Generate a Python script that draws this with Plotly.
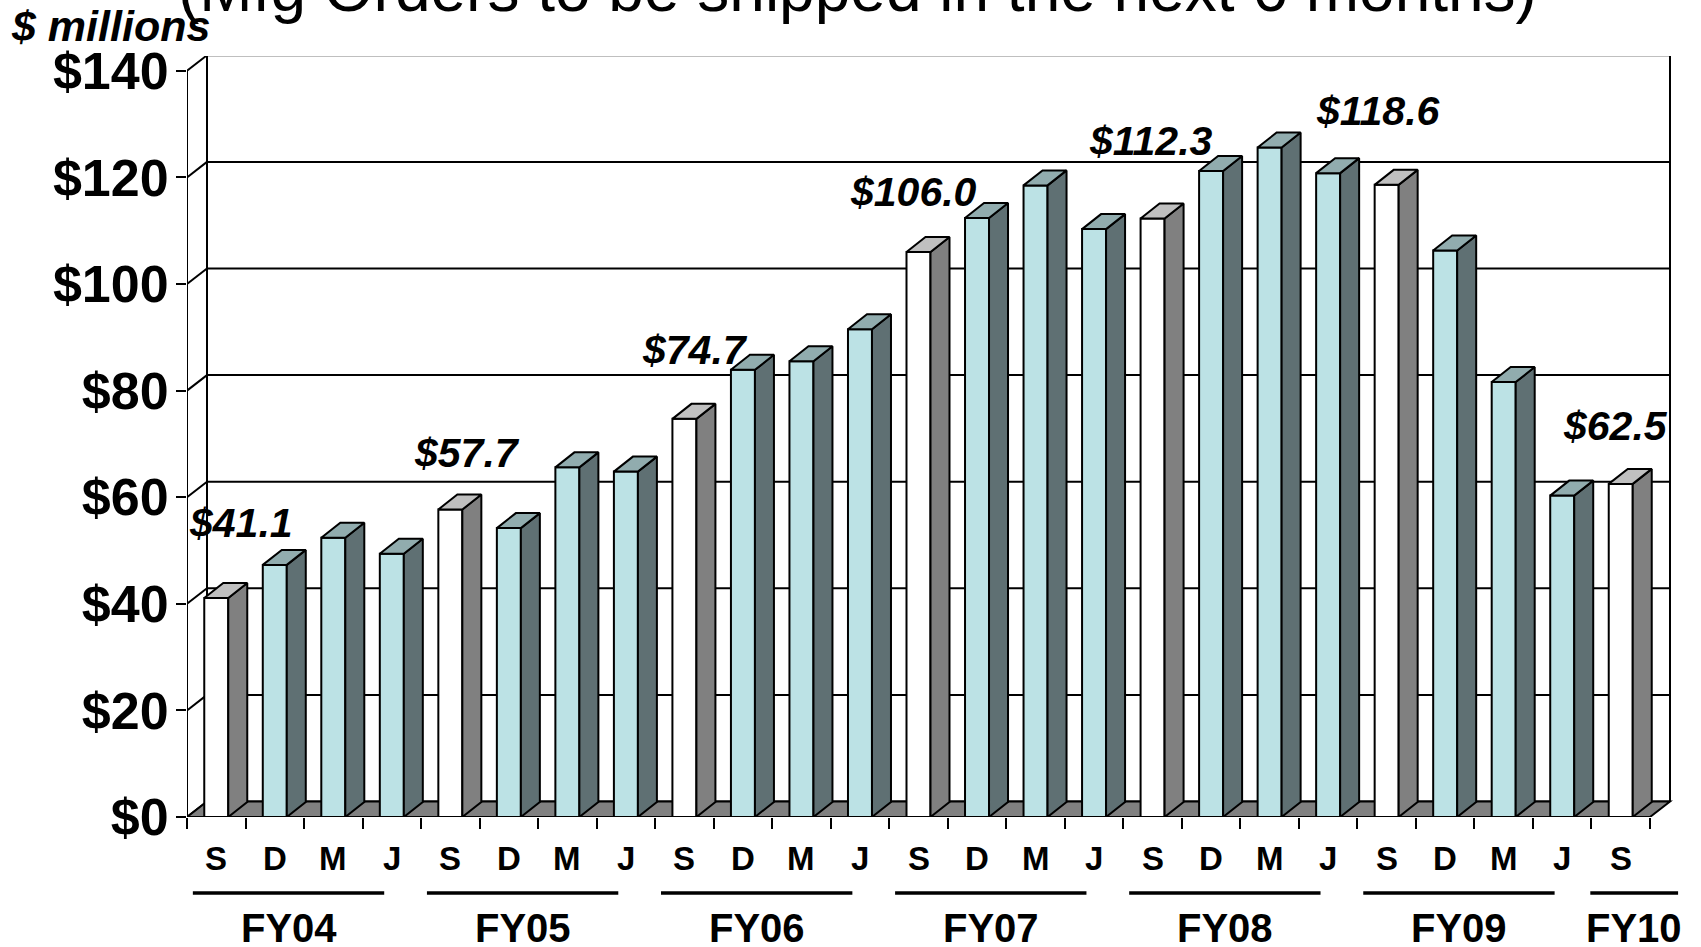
import plotly.graph_objects as go

# ---------------- data ----------------
quarters = ["S", "D", "M", "J"] * 6 + ["S"]
fiscal_years = ["FY04", "FY05", "FY06", "FY07", "FY08", "FY09", "FY10"]
fy_quarter_counts = [4, 4, 4, 4, 4, 4, 1]
orders = [41.1, 47.3, 52.4, 49.4,
          57.7, 54.2, 65.6, 64.8,
          74.7, 83.9, 85.5, 91.5,
          106.0, 112.4, 118.5, 110.3,
          112.3, 121.2, 125.6, 120.8,
          118.6, 106.3, 81.6, 60.3,
          62.5]
y_tick_values = [0, 20, 40, 60, 80, 100, 120, 140]
y_tick_labels = ["$0", "$20", "$40", "$60", "$80", "$100", "$120", "$140"]
title_text = "(Mfg Orders to be shipped in the next 6 months)"
unit_text = "$ millions"

# ---------------- layout geometry / style ----------------
W, H = 1701, 947
L, R, T, B = 187, 0, 56, 130
CAT_PX = 58.52          # pixels per category
UNIT_PX = 5.33          # pixels per $1M
plot_w = W - L - R
plot_h = H - T - B
x_range = [-0.5, -0.5 + plot_w / CAT_PX]
y_range = [0, plot_h / UNIT_PX]

WALL_DX = 20 / CAT_PX
WALL_DY = 15.5 / UNIT_PX
BAR_DX = 19 / CAT_PX
BAR_DY = 15 / UNIT_PX
BAR_W = 24 / CAT_PX

FONT = "Liberation Sans, Arial, Helvetica, sans-serif"
LW = 2

# colours
S_FRONT, S_SIDE, S_TOP = "#FFFFFF", "#808080", "#C0C0C0"
C_FRONT, C_SIDE, C_TOP = "#BCE2E5", "#5F7073", "#91ACAE"
FLOOR = "#808080"

# label offsets (px) for the S-quarter value labels
label_dx = [25, 17, 11, -5, -2, -8, -5]
label_dy = [75, 56, 69, 60, 77, 74, 58]

# underline extents relative to group's left boundary (in categories)
underline_ext = [(0.10, 3.37)] * 6 + [(-0.02, 1.48)]


def paper_y(py):
    return (H - B - py) / plot_h


def paper_x(px):
    return (px - L) / plot_w


n = len(orders)
idx = list(range(n))
is_s = [q == "S" for q in quarters]
x_left_front = -0.5
x_right_front = n - 0.5

fig = go.Figure()

# ---- bar front faces ----
fig.add_trace(go.Bar(
    x=idx, y=orders, width=BAR_W,
    marker=dict(color=[S_FRONT if s else C_FRONT for s in is_s],
                line=dict(color="black", width=LW)),
    hoverinfo="skip", showlegend=False,
))


def faces(sel):
    sx, sy, tx, ty = [], [], [], []
    for i, v in enumerate(orders):
        if is_s[i] != sel:
            continue
        xl = i - BAR_W / 2
        xr = i + BAR_W / 2
        sx += [xr, xr + BAR_DX, xr + BAR_DX, xr, xr, None]
        sy += [0, BAR_DY, v + BAR_DY, v, 0, None]
        tx += [xl, xl + BAR_DX, xr + BAR_DX, xr, xl, None]
        ty += [v, v + BAR_DY, v + BAR_DY, v, v, None]
    return sx, sy, tx, ty


for sel, side_c, top_c in [(True, S_SIDE, S_TOP), (False, C_SIDE, C_TOP)]:
    sx, sy, tx, ty = faces(sel)
    fig.add_trace(go.Scatter(x=sx, y=sy, mode="lines", fill="toself",
                             fillcolor=side_c, line=dict(color="black", width=LW),
                             hoverinfo="skip", showlegend=False))
    fig.add_trace(go.Scatter(x=tx, y=ty, mode="lines", fill="toself",
                             fillcolor=top_c, line=dict(color="black", width=LW),
                             hoverinfo="skip", showlegend=False))

# ---- walls, floor (below traces) ----
shapes = []
line_style = dict(color="black", width=LW)
bx0 = x_left_front + WALL_DX
bx1 = x_right_front + WALL_DX
ytop = y_tick_values[-1]
for v in y_tick_values:
    shapes.append(dict(type="line", xref="x", yref="y", layer="below",
                       x0=bx0, x1=bx1, y0=v + WALL_DY, y1=v + WALL_DY, line=line_style))
    shapes.append(dict(type="line", xref="x", yref="y", layer="below",
                       x0=x_left_front, x1=bx0, y0=v, y1=v + WALL_DY, line=line_style))
# floor
shapes.append(dict(type="path", xref="x", yref="y", layer="below",
                   path=f"M {x_left_front},0 L {x_right_front},0 L {bx1},{WALL_DY} L {bx0},{WALL_DY} Z",
                   fillcolor=FLOOR, line=line_style))
# wall verticals
shapes.append(dict(type="line", xref="x", yref="y", layer="below",
                   x0=bx0, x1=bx0, y0=WALL_DY, y1=ytop + WALL_DY, line=line_style))
shapes.append(dict(type="line", xref="x", yref="y", layer="below",
                   x0=bx1, x1=bx1, y0=WALL_DY, y1=ytop + WALL_DY, line=line_style))
# front value axis
shapes.append(dict(type="line", xref="x", yref="y", layer="below",
                   x0=x_left_front, x1=x_left_front, y0=0, y1=ytop, line=line_style))

# ---- fiscal-year underlines ----
annotations = []
start = 0
for fy, cnt, (e0, e1) in zip(fiscal_years, fy_quarter_counts, underline_ext):
    b = start - 0.5
    shapes.append(dict(type="line", xref="x", yref="paper",
                       x0=b + e0, x1=b + e1, y0=paper_y(893), y1=paper_y(893),
                       line=dict(color="black", width=3.5)))
    annotations.append(dict(xref="x", yref="paper", x=b + (e0 + e1) / 2, y=paper_y(928),
                            text=fy, showarrow=False, xanchor="center", yanchor="middle",
                            font=dict(family=FONT, size=40, color="black", weight="bold")))
    start += cnt

# ---- quarter labels ----
for i, q in enumerate(quarters):
    annotations.append(dict(xref="x", yref="paper", x=i, y=paper_y(859),
                            text=q, showarrow=False, xanchor="center", yanchor="middle",
                            font=dict(family=FONT, size=33, color="black", weight="bold")))

# ---- value labels on S quarters ----
k = 0
for i, v in enumerate(orders):
    if is_s[i]:
        annotations.append(dict(xref="x", yref="y", x=i, y=v, text=f"${v:.1f}",
                                showarrow=False, xanchor="center", yanchor="middle",
                                xshift=label_dx[k], yshift=label_dy[k],
                                font=dict(family=FONT, size=41, color="black",
                                          weight="bold", style="italic")))
        k += 1

# ---- title & unit ----
annotations.append(dict(xref="paper", yref="paper", x=paper_x(857), y=paper_y(-11),
                        text=title_text, showarrow=False, xanchor="center", yanchor="middle",
                        font=dict(family=FONT, size=64, color="black")))
annotations.append(dict(xref="paper", yref="paper", x=paper_x(9), y=paper_y(26),
                        text=unit_text, showarrow=False, xanchor="left", yanchor="middle",
                        font=dict(family=FONT, size=43, color="black",
                                  weight="bold", style="italic")))

fig.update_layout(
    width=W, height=H,
    margin=dict(l=L, r=R, t=T, b=B, pad=0),
    paper_bgcolor="white", plot_bgcolor="white",
    showlegend=False,
    shapes=shapes, annotations=annotations,
    xaxis=dict(range=x_range, tickmode="array",
               tickvals=[i - 0.5 for i in range(n + 1)],
               showticklabels=False, ticks="outside", ticklen=11, tickwidth=LW,
               tickcolor="black", showgrid=False, zeroline=False, showline=False,
               fixedrange=True),
    yaxis=dict(range=y_range, tickmode="array", tickvals=y_tick_values,
               ticktext=y_tick_labels, ticks="outside", ticklen=10, tickwidth=LW,
               tickcolor="black", showgrid=False, zeroline=False, showline=False,
               ticklabelstandoff=-3,
               tickfont=dict(family=FONT, size=52, color="black", weight="bold"),
               fixedrange=True),
)

fig.write_html("out.html",
               config={"displayModeBar": False},
               post_script="document.body.style.margin='0';document.body.style.overflow='hidden';")
